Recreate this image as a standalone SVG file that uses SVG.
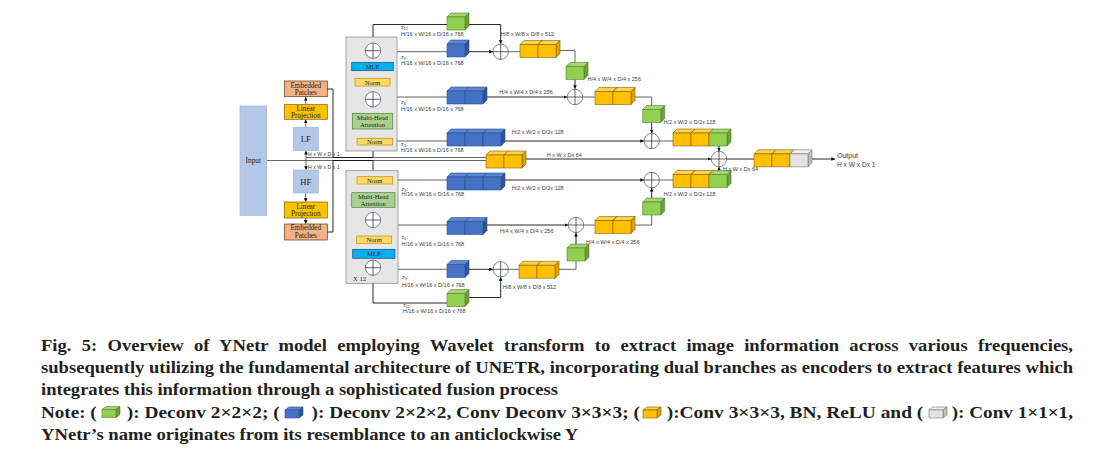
<svg xmlns="http://www.w3.org/2000/svg" xmlns:xlink="http://www.w3.org/1999/xlink" width="1106" height="451" viewBox="0 0 1106 451">
<style>
.ln{fill:none;stroke:#404040;stroke-width:0.8}
.lk{fill:none;stroke:#111;stroke-width:0.9}
.ar{marker-end:url(#ah)}
.d{font-family:"Liberation Sans",Arial,sans-serif;font-size:5.5px;fill:#404040}
.sub{font-size:3.8px}
.bt{font-family:"Liberation Serif","Times New Roman",serif;font-size:7.2px;fill:#222;text-anchor:middle}
.sm{font-size:6.6px}
.cap{font-family:"Liberation Serif","Times New Roman",serif;font-size:16.5px;font-weight:bold;fill:#231f20}
.box{stroke-width:0.7}
</style>
<defs>
<marker id="ah" viewBox="0 0 6 6" refX="6" refY="3" markerWidth="3.6" markerHeight="3.6" orient="auto" markerUnits="userSpaceOnUse"><path d="M0,0 L6,3 L0,6 Z" fill="#000"/></marker>
<g id="cG" stroke="#507e32" stroke-width="0.6" stroke-linejoin="round"><path d="M0,0 L4,-4 H22 L18,0 Z" fill="#a6d66e"/><path d="M18,0 L22,-4 V9 L18,13 Z" fill="#6f9f3c"/><rect width="18" height="13" fill="#92d050"/></g>
<g id="cB" stroke="#2f4f8a" stroke-width="0.6" stroke-linejoin="round"><path d="M0,0 L4,-4 H22 L18,0 Z" fill="#5b86d6"/><path d="M18,0 L22,-4 V9 L18,13 Z" fill="#2f5597"/><rect width="18" height="13" fill="#4472c4"/></g>
<g id="cY" stroke="#7f6000" stroke-width="0.6" stroke-linejoin="round"><path d="M0,0 L4,-4 H22 L18,0 Z" fill="#ffd24d"/><path d="M18,0 L22,-4 V9 L18,13 Z" fill="#d9a300"/><rect width="18" height="13" fill="#ffc000"/></g>
<g id="cW" stroke="#767171" stroke-width="0.6" stroke-linejoin="round"><path d="M0,0 L4,-4 H22 L18,0 Z" fill="#f2f2f2"/><path d="M18,0 L22,-4 V9 L18,13 Z" fill="#bfbfbf"/><rect width="18" height="13" fill="#e4e4e4"/></g>
<g id="iG" stroke="#507e32" stroke-width="0.6" stroke-linejoin="round"><path d="M0,0 L4,-3 H18 L14,0 Z" fill="#a6d66e"/><path d="M14,0 L18,-3 V5 L14,8 Z" fill="#6f9f3c"/><rect width="14" height="8" fill="#92d050"/></g>
<g id="iB" stroke="#2f4f8a" stroke-width="0.6" stroke-linejoin="round"><path d="M0,0 L4,-3 H18 L14,0 Z" fill="#5b86d6"/><path d="M14,0 L18,-3 V5 L14,8 Z" fill="#2f5597"/><rect width="14" height="8" fill="#4472c4"/></g>
<g id="iY" stroke="#7f6000" stroke-width="0.6" stroke-linejoin="round"><path d="M0,0 L4,-3 H18 L14,0 Z" fill="#ffd24d"/><path d="M14,0 L18,-3 V5 L14,8 Z" fill="#d9a300"/><rect width="14" height="8" fill="#ffc000"/></g>
<g id="iW" stroke="#767171" stroke-width="0.6" stroke-linejoin="round"><path d="M0,0 L4,-3 H18 L14,0 Z" fill="#f2f2f2"/><path d="M14,0 L18,-3 V5 L14,8 Z" fill="#bfbfbf"/><rect width="14" height="8" fill="#e4e4e4"/></g>
<g id="pl"><circle r="7.7" fill="#fff" stroke="#44546a" stroke-width="0.7"/><path d="M-7.7,0H7.7M0,-7.7V7.7" stroke="#222" stroke-width="0.7"/></g>
</defs>
<rect width="1106" height="451" fill="#fff"/>

<!-- connectors -->
<g id="connectors">
<path class="ln" d="M266.7,160.5 H486"/>
<path class="ln" d="M306,157.5 H486"/>
<path class="ln ar" d="M306,160.5 V151"/>
<path class="ln ar" d="M306,160.5 V169.8"/>
<path class="ln ar" d="M305.7,127.3 V119.5"/>
<path class="ln ar" d="M305.7,104.3 V97"/>
<path class="ln ar" d="M305.7,193 V201.8"/>
<path class="ln ar" d="M305.7,218 V223.8"/>
<path class="lk" d="M327,89 H333 V157.5 H373"/>
<path class="lk ar" d="M373,157.5 V145.3"/>
<path class="lk" d="M327,232 H333 V160.5 H373"/>
<path class="lk ar" d="M373,160.5 V176.5"/>
<!-- upper transformer internals -->
<path class="lk ar" d="M373,149 H351 V99.3 H365.2"/>
<path class="lk ar" d="M373,138.3 V129.3"/>
<path class="lk" d="M373,113.3 V107"/>
<path class="lk ar" d="M373,91.6 V86.2"/>
<path class="lk ar" d="M373,89 H351 V50.7 H365.2"/>
<path class="lk ar" d="M373,78.3 V70.9"/>
<path class="lk" d="M373,62.3 V58.4"/>
<path class="lk" d="M373,43 V24.5 H447"/>
<path class="ln" d="M397,51.7 H447"/>
<path class="ln" d="M397,97 H447"/>
<path class="ln" d="M397,141 H447"/>
<!-- lower transformer internals -->
<path class="lk ar" d="M373,173.5 H351 V220 H365.2"/>
<path class="lk ar" d="M373,184 V192.5"/>
<path class="lk" d="M373,207.3 V212.3"/>
<path class="lk ar" d="M373,227.7 V235.8"/>
<path class="lk ar" d="M373,231 H351 V267.7 H365.2"/>
<path class="lk ar" d="M373,243.3 V249.1"/>
<path class="lk" d="M373,258.3 V260"/>
<path class="lk" d="M373,275.4 V303 H447"/>
<path class="ln" d="M398,180 H447"/>
<path class="ln" d="M398,225 H447"/>
<path class="ln" d="M398,269.3 H447"/>
<!-- upper decoder -->
<path class="lk ar" d="M469,24.5 H500.7 V43.8"/>
<path class="lk ar" d="M469,51.7 H492.8"/>
<path class="ln" d="M508.4,51.7 H520"/>
<path class="ln" d="M560,50.5 H575 V62.5"/>
<path class="lk ar" d="M575,79.5 V88.8"/>
<path class="lk ar" d="M487,97 H567.2"/>
<path class="ln" d="M582.7,97 H595"/>
<path class="ln" d="M635,97 H651.7 V105.5"/>
<path class="lk ar" d="M651.7,122.5 V133.1"/>
<path class="lk ar" d="M505,141 H643.9"/>
<path class="ln" d="M659.4,141 H673"/>
<!-- fusion -->
<path class="lk ar" d="M719,146 V151.1"/>
<path class="lk ar" d="M526,159 H711.2"/>
<path class="lk ar" d="M719,172 V166.9"/>
<path class="lk" d="M726.7,159 H754"/>
<path class="lk ar" d="M812,159 H835"/>
<!-- lower decoder -->
<path class="lk ar" d="M505,180 H643.9"/>
<path class="ln" d="M659.4,180 H673"/>
<path class="lk ar" d="M651.7,198 V187.9"/>
<path class="ln" d="M635,225 H651.7 V215"/>
<path class="lk ar" d="M487,225 H568.2"/>
<path class="ln" d="M583.7,225 H595"/>
<path class="lk ar" d="M576,244 V232.9"/>
<path class="ln" d="M559,269.3 H576 V261"/>
<path class="lk ar" d="M469,269.3 H492.8"/>
<path class="ln" d="M508.4,269.3 H519"/>
<path class="lk ar" d="M469,297.5 H500.7 V277.2"/>
</g>

<!-- encoder input nodes -->
<g id="input"><rect class="box" x="240" y="106" width="26.7" height="109.3" fill="#b4c7e7" stroke="#9db4dc"/><text class="bt" x="253.3" y="163.2" style="font-size:7.4px">Input</text></g>
<g id="lf"><rect class="box" x="293.3" y="127.3" width="25" height="23.4" fill="#b4c7e7" stroke="#9db4dc"/><text class="bt" x="305.8" y="142.2" style="font-size:8.6px">LF</text></g>
<g id="hf"><rect class="box" x="293.3" y="170" width="25" height="23" fill="#b4c7e7" stroke="#9db4dc"/><text class="bt" x="305.8" y="184.6" style="font-size:8.6px">HF</text></g>
<g id="lp-top"><rect class="box" x="284.3" y="104.3" width="43" height="15" fill="#ffc000" stroke="#8c5a1a"/><text class="bt" x="305.8" y="110.6">Linear</text><text class="bt" x="305.8" y="118">Projection</text></g>
<g id="ep-top"><rect class="box" x="284.3" y="81" width="43" height="15.7" fill="#f4b183" stroke="#5a3a1a"/><text class="bt" x="305.8" y="87.6">Embedded</text><text class="bt" x="305.8" y="95.4">Patches</text></g>
<g id="lp-bot"><rect class="box" x="284.3" y="202" width="43" height="16" fill="#ffc000" stroke="#8c5a1a"/><text class="bt" x="305.8" y="208.6">Linear</text><text class="bt" x="305.8" y="216.4">Projection</text></g>
<g id="ep-bot"><rect class="box" x="284.3" y="224" width="43" height="16" fill="#f4b183" stroke="#5a3a1a"/><text class="bt" x="305.8" y="230.4">Embedded</text><text class="bt" x="305.8" y="238.4">Patches</text></g>

<!-- upper transformer -->
<g id="tf-top">
<rect class="box" x="346" y="37" width="51" height="114" fill="#e7e6e6" stroke="#7f7f7f"/>
<rect class="box" x="351.7" y="62.3" width="41.6" height="8.4" fill="#00b0f0" stroke="#1f4e79"/><text class="bt sm" x="372.5" y="68.8">MLP</text>
<rect class="box" x="355" y="78.3" width="35" height="7.7" fill="#ffd966" stroke="#bf9000"/><text class="bt sm" x="372.5" y="84.6">Norm</text>
<rect class="box" x="352.3" y="113.3" width="40.4" height="15.7" fill="#a9d18e" stroke="#548235"/><text class="bt sm" x="372.5" y="119.9">Multi-Head</text><text class="bt sm" x="372.5" y="127.2">Attention</text>
<rect class="box" x="357" y="138.3" width="35.7" height="6.7" fill="#ffd966" stroke="#bf9000"/><text class="bt sm" x="374.8" y="144.2">Norm</text>
<use href="#pl" x="373" y="50.7"/>
<use href="#pl" x="373" y="99.3"/>
</g>

<!-- lower transformer -->
<g id="tf-bot">
<rect class="box" x="346" y="170.7" width="52" height="112.6" fill="#e7e6e6" stroke="#7f7f7f"/>
<rect class="box" x="357" y="176.7" width="35.7" height="7.3" fill="#ffd966" stroke="#bf9000"/><text class="bt sm" x="374.8" y="182.9">Norm</text>
<rect class="box" x="351.7" y="192.7" width="43.3" height="14.6" fill="#a9d18e" stroke="#548235"/><text class="bt sm" x="373.3" y="199.2">Multi-Head</text><text class="bt sm" x="373.3" y="206.2">Attention</text>
<rect class="box" x="356.7" y="236" width="35" height="7.3" fill="#ffd966" stroke="#bf9000"/><text class="bt sm" x="374.2" y="242.2">Norm</text>
<rect class="box" x="352.7" y="249.3" width="42.3" height="9" fill="#00b0f0" stroke="#1f4e79"/><text class="bt sm" x="373.8" y="256.1">MLP</text>
<use href="#pl" x="373" y="220"/>
<use href="#pl" x="373" y="267.7"/>
<text class="bt" x="359.5" y="280.6" style="font-size:6.6px">X 12</text>
</g>

<!-- encoder output blocks -->
<g id="b-z12u"><use href="#cG" x="447" y="17"/></g>
<g id="b-z9u"><use href="#cB" x="447" y="44"/></g>
<g id="b-z6u"><use href="#cB" x="447" y="91"/><use href="#cB" x="465" y="91"/></g>
<g id="b-z3u"><use href="#cB" x="447" y="133"/><use href="#cB" x="465" y="133"/><use href="#cB" x="483" y="133"/></g>
<g id="b-skip"><use href="#cY" x="486" y="155"/><use href="#cY" x="504" y="155"/></g>
<g id="b-z3d"><use href="#cB" x="447" y="177"/><use href="#cB" x="465" y="177"/><use href="#cB" x="483" y="177"/></g>
<g id="b-z6d"><use href="#cB" x="447" y="221.5"/><use href="#cB" x="465" y="221.5"/></g>
<g id="b-z9d"><use href="#cB" x="447" y="264.5"/></g>
<g id="b-z12d"><use href="#cG" x="447" y="293.5"/></g>

<!-- upper decoder -->
<g id="p1"><use href="#pl" x="500.7" y="51.7"/></g>
<g id="y1"><use href="#cY" x="520" y="44.5"/><use href="#cY" x="538" y="44.5"/></g>
<g id="g1"><use href="#cG" x="566" y="66.5"/></g>
<g id="p2"><use href="#pl" x="575" y="97"/></g>
<g id="y2"><use href="#cY" x="595" y="91.5"/><use href="#cY" x="613" y="91.5"/></g>
<g id="g2"><use href="#cG" x="642.7" y="109.5"/></g>
<g id="p3"><use href="#pl" x="651.7" y="141"/></g>
<g id="ug"><use href="#cY" x="673" y="133"/><use href="#cY" x="691" y="133"/><use href="#cG" x="709" y="133"/></g>

<!-- fusion and output -->
<g id="pf"><use href="#pl" x="719" y="159"/></g>
<g id="fin"><use href="#cY" x="754" y="153.8"/><use href="#cY" x="772" y="153.8"/><use href="#cW" x="790" y="153.8"/></g>
<g id="output"><text class="d" x="837" y="157.6" style="font-size:7px">Output</text><text class="d" x="837" y="166.6" style="font-size:6.6px">H x W x Dx 1</text></g>

<!-- lower decoder -->
<g id="lg"><use href="#cY" x="673" y="174.5"/><use href="#cY" x="691" y="174.5"/><use href="#cG" x="709" y="174.5"/></g>
<g id="p4"><use href="#pl" x="651.7" y="180"/></g>
<g id="g3"><use href="#cG" x="642.7" y="202"/></g>
<g id="y3"><use href="#cY" x="595" y="220.5"/><use href="#cY" x="613" y="220.5"/></g>
<g id="p5"><use href="#pl" x="576" y="225"/></g>
<g id="g4"><use href="#cG" x="567" y="248"/></g>
<g id="y4"><use href="#cY" x="519" y="265.3"/><use href="#cY" x="537" y="265.3"/></g>
<g id="p6"><use href="#pl" x="500.7" y="269.3"/></g>

<!-- labels -->
<g id="labels">
<text class="d" x="308" y="155.6" style="font-size:5.2px">H x W x D x 1</text>
<text class="d" x="308" y="168.6" style="font-size:5.2px">H x W x D x 1</text>
<text class="d" x="401" y="29.4">z<tspan class="sub" dy="1">12</tspan></text>
<text class="d" x="401" y="36">H/16 x W/16 x D/16 x 768</text>
<text class="d" x="401" y="58.6">z<tspan class="sub" dy="1">9</tspan><tspan dy="-1">:</tspan></text>
<text class="d" x="401" y="65.2">H/16 x W/16 x D/16 x 768</text>
<text class="d" x="401" y="104">z<tspan class="sub" dy="1">6</tspan><tspan dy="-1">:</tspan></text>
<text class="d" x="401" y="110.6">H/16 x W/16 x D/16 x 768</text>
<text class="d" x="401" y="146">z<tspan class="sub" dy="1">3</tspan><tspan dy="-1">:</tspan></text>
<text class="d" x="401" y="152.2">H/16 x W/16 x D/16 x 768</text>
<text class="d" x="401.5" y="191.2">z<tspan class="sub" dy="1">3</tspan><tspan dy="-1">:</tspan></text>
<text class="d" x="401.5" y="196.4">H/16 x W/16 x D/16 x 768</text>
<text class="d" x="401.5" y="239.3">z<tspan class="sub" dy="1">6</tspan><tspan dy="-1">:</tspan></text>
<text class="d" x="401.5" y="246">H/16 x W/16 x D/16 x 768</text>
<text class="d" x="402" y="279.3">z<tspan class="sub" dy="1">9</tspan><tspan dy="-1">:</tspan></text>
<text class="d" x="402" y="287">H/16 x W/16 x D/16 x 768</text>
<text class="d" x="403" y="307">z<tspan class="sub" dy="1">12</tspan><tspan dy="-1">:</tspan></text>
<text class="d" x="403" y="313">H/16 x W/16 x D/16 x 768</text>
<text class="d" x="500.7" y="36.3">H/8 x W/8 x D/8 x 512</text>
<text class="d" x="587.5" y="81">H/4 x W/4 x D/4 x 256</text>
<text class="d" x="499.3" y="93.5">H/4 x W/4 x D/4 x 256</text>
<text class="d" x="663.5" y="123.5">H/2 x W/2 x D/2x 128</text>
<text class="d" x="511.7" y="134">H/2 x W/2 x D/2x 128</text>
<text class="d" x="546.7" y="156.8">H x W x Dx 64</text>
<text class="d" x="723" y="171.3">H x W x Dx 64</text>
<text class="d" x="511.7" y="190.2">H/2 x W/2 x D/2x 128</text>
<text class="d" x="663.5" y="196">H/2 x W/2 x D/2x 128</text>
<text class="d" x="500" y="232.6">H/4 x W/4 x D/4 x 256</text>
<text class="d" x="586" y="244">H/4 x W/4 x D/4 x 256</text>
<text class="d" x="502.7" y="288.6">H/8 x W/8 x D/8 x 512</text>
</g>

<!-- caption -->
<g id="caption">
<text class="cap" x="41" y="351" textLength="1032" lengthAdjust="spacingAndGlyphs" word-spacing="5">Fig. 5: Overview of YNetr model employing Wavelet transform to extract image information across various frequencies,</text>
<text class="cap" x="41" y="373" textLength="1032" lengthAdjust="spacingAndGlyphs">subsequently utilizing the fundamental architecture of UNETR, incorporating dual branches as encoders to extract features which</text>
<text class="cap" x="41" y="395" textLength="517" lengthAdjust="spacingAndGlyphs">integrates this information through a sophisticated fusion process</text>
<text class="cap" x="41" y="417.6" textLength="55.7" lengthAdjust="spacingAndGlyphs">Note: (</text>
<use href="#iG" x="102" y="409.5"/>
<text class="cap" x="126.7" y="417.6" textLength="153" lengthAdjust="spacingAndGlyphs">): Deconv 2×2×2; (</text>
<use href="#iB" x="285" y="410"/>
<text class="cap" x="311.5" y="417.6" textLength="328.5" lengthAdjust="spacingAndGlyphs">): Deconv 2×2×2, Conv Deconv 3×3×3; (</text>
<use href="#iY" x="643" y="410"/>
<text class="cap" x="666.7" y="417.6" textLength="256.6" lengthAdjust="spacingAndGlyphs">):Conv 3×3×3, BN, ReLU and (</text>
<use href="#iW" x="929" y="410"/>
<text class="cap" x="951.7" y="417.6" textLength="121.3" lengthAdjust="spacingAndGlyphs">): Conv 1×1×1,</text>
<text class="cap" x="41" y="439.6" textLength="537.3" lengthAdjust="spacingAndGlyphs">YNetr’s name originates from its resemblance to an anticlockwise Y</text>
</g>
</svg>
